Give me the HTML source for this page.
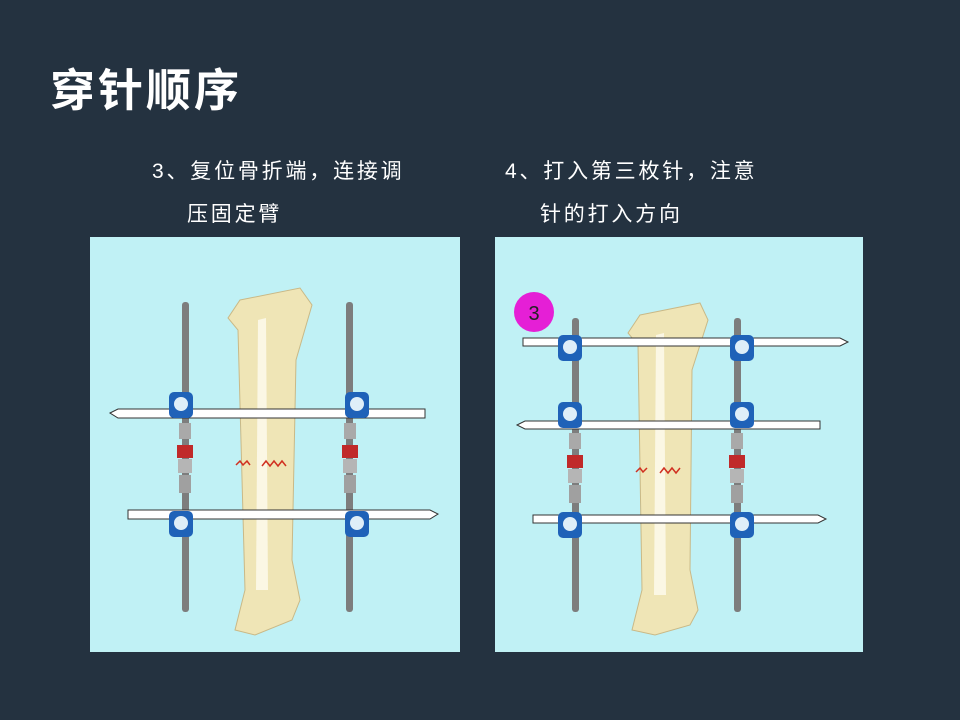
<!DOCTYPE html>
<html><head><meta charset="utf-8"><style>
body{margin:0;width:960px;height:720px;background:#243240;overflow:hidden;font-family:"Liberation Sans","Noto Sans CJK SC",sans-serif;}
svg{position:absolute;left:0;top:0}
</style></head><body>
<svg width="960" height="720" xmlns="http://www.w3.org/2000/svg">
<defs>
<g id="clamp"><rect x="-12" y="-13" width="24" height="26" rx="5" fill="#1f62b8"/><circle cx="0" cy="-1" r="7" fill="#dfeef8"/></g>
<g id="conn"><rect x="-6" y="0" width="12" height="16" fill="#a9a9a9"/><rect x="-8" y="22" width="16" height="13" fill="#c02a2a"/><rect x="-7" y="36" width="14" height="14" fill="#b5b5b5"/><rect x="-6" y="52" width="12" height="18" fill="#a0a0a0"/></g>
</defs>
<text x="50" y="106" font-size="45" font-weight="bold" letter-spacing="3" fill="#fff" font-family="Liberation Sans,Noto Sans CJK SC,sans-serif">穿针顺序</text>
<g font-size="21" fill="#fff" letter-spacing="2.8" font-family="Liberation Sans,Noto Sans CJK SC,sans-serif">
<text x="152" y="178">3、复位骨折端，连接调</text>
<text x="187" y="221">压固定臂</text>
<text x="505" y="178">4、打入第三枚针，注意</text>
<text x="540" y="221">针的打入方向</text>
</g>
<!-- left panel -->
<rect x="90" y="237" width="370" height="415" fill="#c0f1f5"/>
<rect x="182" y="302" width="7" height="310" rx="3" fill="#7d7d7d"/>
<rect x="346" y="302" width="7" height="310" rx="3" fill="#7d7d7d"/>
<path d="M240 300 L300 288 L312 305 L296 360 L292 560 L300 600 L292 620 L255 635 L235 630 L245 590 L238 330 L228 318 Z" fill="#efe5b6" stroke="#c9b987"/>
<path d="M258 320 L266 318 L268 590 L256 590 Z" fill="#fbf7e4"/>
<use href="#conn" x="185" y="423"/><use href="#conn" x="350" y="423"/>
<path d="M110 413 L118 409 L425 409 L425 418 L118 418 Z" fill="#fff" stroke="#333"/>
<path d="M128 510 L430 510 L438 514 L430 519 L128 519 Z" fill="#fff" stroke="#333"/>
<use href="#clamp" x="181" y="405"/><use href="#clamp" x="357" y="405"/>
<use href="#clamp" x="181" y="524"/><use href="#clamp" x="357" y="524"/>
<path d="M236 465 l4 -4 l3 4 l4 -4 l3 4 M262 466 l4 -5 l4 5 l4 -5 l4 5 l4 -5 l4 5" stroke="#d03020" fill="none" stroke-width="1.5"/>
<!-- right panel -->
<rect x="495" y="237" width="368" height="415" fill="#c0f1f5"/>
<rect x="572" y="318" width="7" height="294" rx="3" fill="#7d7d7d"/>
<rect x="734" y="318" width="7" height="294" rx="3" fill="#7d7d7d"/>
<path d="M640 315 L700 303 L708 320 L692 370 L690 570 L698 610 L690 625 L655 635 L632 630 L642 590 L638 345 L628 333 Z" fill="#efe5b6" stroke="#c9b987"/>
<path d="M656 335 L664 333 L666 595 L654 595 Z" fill="#fbf7e4"/>
<use href="#conn" x="575" y="433"/><use href="#conn" x="737" y="433"/>
<path d="M523 338 L840 338 L848 342 L840 346 L523 346 Z" fill="#fff" stroke="#333"/>
<path d="M517 425 L525 421 L820 421 L820 429 L525 429 Z" fill="#fff" stroke="#333"/>
<path d="M533 515 L818 515 L826 519 L818 523 L533 523 Z" fill="#fff" stroke="#333"/>
<use href="#clamp" x="570" y="348"/><use href="#clamp" x="742" y="348"/>
<use href="#clamp" x="570" y="415"/><use href="#clamp" x="742" y="415"/>
<use href="#clamp" x="570" y="525"/><use href="#clamp" x="742" y="525"/>
<path d="M636 472 l4 -4 l3 4 l4 -4 M660 473 l4 -5 l4 5 l4 -5 l4 5 l4 -5" stroke="#d03020" fill="none" stroke-width="1.5"/>
<circle cx="534" cy="312" r="20" fill="#e51fd6"/>
<text x="534" y="320" font-size="20" text-anchor="middle" fill="#222" font-family="Liberation Sans,sans-serif">3</text>
</svg>
</body></html>
